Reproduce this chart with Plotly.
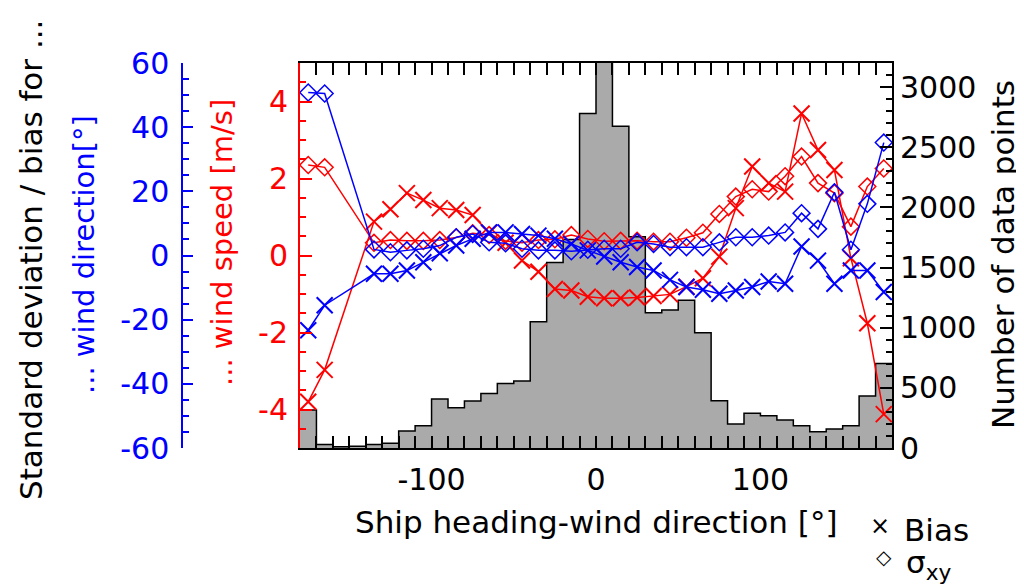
import plotly.graph_objects as go

# ---------------- data ----------------
bin_edges = list(range(-180, 181, 10))
bin_centers = list(range(-175, 180, 10))
counts = [316, 30, 10, 15, 30, 40, 141, 185, 407, 335, 390, 454, 537, 556, 1049, 1542,
          1733, 2780, 3400, 2675, 1755, 1124, 1146, 1229, 958, 393, 199, 288, 268, 233,
          185, 136, 158, 185, 432, 703]

N = None
speed_bias = [-3.80, -2.97, N, N, 0.88, 1.20, 1.62, 1.44, 1.23, 1.18, 1.05, 0.59, 0.33,
              -0.13, -0.42, -0.87, -0.91, -1.07, -1.11, -1.11, -1.09, -1.05, -1.01, -0.81,
              -0.59, -0.03, 1.23, 2.31, 1.88, 1.66, 3.69, 2.74, 2.22, -0.07, -1.76, -4.12]
speed_sigma = [2.35, 2.29, N, N, 0.33, 0.40, 0.38, 0.38, 0.40, 0.47, 0.58, 0.53, 0.38,
               0.33, 0.40, 0.42, 0.53, 0.43, 0.37, 0.38, 0.38, 0.36, 0.36, 0.46, 0.59,
               1.08, 1.53, 1.72, 1.66, 2.06, 2.57, 1.88, 1.62, 0.75, 1.79, 2.26]
dir_sigma = [50.8, 50.5, N, N, 1.9, 1.0, 1.6, 2.1, 3.1, 5.7, 6.7, 4.1, 3.8, 2.1, 1.6,
             1.6, 1.3, 1.8, 2.1, 2.1, 4.1, 3.6, 2.6, 2.6, 2.6, 4.1, 5.7, 5.7, 6.2, 7.2,
             13.2, 8.3, 19.7, 1.8, 16.1, 35.2]
dir_bias = [-23.3, -15.5, N, N, -5.7, -5.7, -4.7, -2.1, 0.7, 3.1, 5.2, 7.2, 7.2, 6.7,
            6.2, 5.2, 3.6, 1.6, -0.3, -2.1, -3.6, -4.7, -7.6, -9.8, -10.7, -11.9, -10.9,
            -9.8, -8.1, -8.8, 2.8, -1.6, -8.8, -4.7, -4.7, -11.4]

x_ticks = [-100, 0, 100]
speed_ticks = [-4, -2, 0, 2, 4]
dir_ticks = [-60, -40, -20, 0, 20, 40, 60]
count_ticks = [0, 500, 1000, 1500, 2000, 2500, 3000]

FONT = "DejaVu Sans, Liberation Sans, Arial, sans-serif"
FS = 30
FT = 31
RED = "#ff0000"
BLUE = "#0000ff"

# the page body has an 8px default margin: work in page pixels, convert to figure pixels
OFF = 8
W, H = 1024 - OFF, 585 - OFF
PL, PR, PT, PB = 300, 892, 63, 448  # plot area in page pixels
ML, MR = 12, 12
MT = PT - OFF
MB = H - (PB - OFF)
paper_w = W - ML - MR
plot_h = H - MT - MB


def px(xpage):
    return (xpage - OFF - ML) / paper_w


def py(ypage):
    return (H - MB - (ypage - OFF)) / plot_h


def lab(v):
    return str(v)


fig = go.Figure()

# histogram (step outline with fill) on right axis (base y)
step_y = counts + [counts[-1]]
fig.add_trace(go.Scatter(x=bin_edges, y=step_y, mode="lines", line_shape="hv",
                         fill="tozeroy", fillcolor="#aaaaaa",
                         line=dict(color="black", width=1.5),
                         xaxis="x", yaxis="y", showlegend=False, hoverinfo="skip"))

# wind speed (red)
fig.add_trace(go.Scatter(x=bin_centers, y=speed_sigma, mode="lines+markers", connectgaps=True,
                         line=dict(color=RED, width=1.5),
                         marker=dict(symbol="diamond-open", size=13, color=RED, line=dict(width=1.5)),
                         yaxis="y2", showlegend=False, cliponaxis=False))
fig.add_trace(go.Scatter(x=bin_centers, y=speed_bias, mode="lines+markers", connectgaps=True,
                         line=dict(color=RED, width=1.5),
                         marker=dict(symbol="x-thin-open", size=16, color=RED, line=dict(width=2, color=RED)),
                         yaxis="y2", showlegend=False, cliponaxis=False))
# wind direction (blue)
fig.add_trace(go.Scatter(x=bin_centers, y=dir_sigma, mode="lines+markers", connectgaps=True,
                         line=dict(color=BLUE, width=1.5),
                         marker=dict(symbol="diamond-open", size=13, color=BLUE, line=dict(width=1.5)),
                         yaxis="y3", showlegend=False, cliponaxis=False))
fig.add_trace(go.Scatter(x=bin_centers, y=dir_bias, mode="lines+markers", connectgaps=True,
                         line=dict(color=BLUE, width=1.5),
                         marker=dict(symbol="x-thin-open", size=16, color=BLUE, line=dict(width=2, color=BLUE)),
                         yaxis="y3", showlegend=False, cliponaxis=False))

fig.update_layout(
    width=W, height=H,
    margin=dict(l=ML, r=MR, t=MT, b=MB, autoexpand=False),
    paper_bgcolor="white", plot_bgcolor="white",
    font=dict(family=FONT, size=FS, color="black"),
    showlegend=False,
    xaxis=dict(domain=[px(PL), px(PR)], range=[-180, 180],
               tickvals=x_ticks, ticktext=[lab(v) for v in x_ticks],
               ticks="inside", ticklen=12, tickwidth=1.5, tickcolor="black",
               minor=dict(dtick=10, tick0=0, ticks="inside", ticklen=6, tickwidth=1.5, tickcolor="black"),
               showline=True, linecolor="black", linewidth=2, mirror="allticks",
               showgrid=False, zeroline=False, ticklabelstandoff=4, automargin=False,
               tickfont=dict(size=FS)),
    yaxis=dict(range=[0, 3200], side="right",
               tickvals=count_ticks, ticktext=[lab(v) for v in count_ticks],
               ticks="inside", ticklen=12, tickwidth=1.5, tickcolor="black",
               minor=dict(dtick=100, ticks="inside", ticklen=6, tickwidth=1.5, tickcolor="black"),
               showline=True, linecolor="black", linewidth=2,
               showgrid=False, zeroline=False, ticklabelstandoff=0, automargin=False,
               tickfont=dict(size=FS)),
    yaxis2=dict(range=[-5, 5], overlaying="y", side="left", anchor="x",
                tickvals=speed_ticks, ticktext=[lab(v) for v in speed_ticks],
                ticks="inside", ticklen=12, tickwidth=1.5, tickcolor=RED,
                minor=dict(dtick=0.5, ticks="inside", ticklen=6, tickwidth=1.5, tickcolor=RED),
                showline=True, linecolor=RED, linewidth=2,
                showgrid=False, zeroline=False, ticklabelstandoff=4, automargin=False,
                tickfont=dict(size=FS, color=RED)),
    yaxis3=dict(range=[-60, 60], overlaying="y", side="left", anchor="free", position=px(182),
                tickvals=dir_ticks, ticktext=[lab(v) for v in dir_ticks],
                ticks="inside", ticklen=10, tickwidth=1.5, tickcolor=BLUE,
                minor=dict(dtick=5, ticks="inside", ticklen=6, tickwidth=1.5, tickcolor=BLUE),
                showline=True, linecolor=BLUE, linewidth=1.5,
                showgrid=False, zeroline=False, ticklabelstandoff=6, automargin=False,
                tickfont=dict(size=FS, color=BLUE)),
)

anns = [
    dict(text="Ship heading-wind direction [°]", xp=596, yp=522, angle=0, color="black", size=FT),
    dict(text="Number of data points", xp=1003, yp=255, angle=-90, color="black", size=FT),
    dict(text="Standard deviation / bias for ...", xp=31, yp=260, angle=-90, color="black", size=31),
    dict(text="... wind direction[°]", xp=84, yp=255, angle=-90, color=BLUE, size=29),
    dict(text="... wind speed [m/s]", xp=222, yp=243, angle=-90, color=RED, size=29),
    dict(text="Bias", xp=936, yp=530, angle=0, color="black", size=FT),
    dict(text="σ<sub>xy</sub>", xp=928, yp=564, angle=0, color="black", size=FT),
    dict(text="×", xp=880, yp=526, angle=0, color="black", size=24),
    dict(text="◇", xp=884, yp=557, angle=0, color="black", size=20),
]
annotations = []
for a in anns:
    annotations.append(dict(text=a["text"], x=px(a["xp"]), y=py(a["yp"]), xref="paper", yref="paper",
                            showarrow=False, textangle=a["angle"], xanchor="center", yanchor="middle",
                            font=dict(family=FONT, size=a["size"], color=a["color"])))
fig.update_layout(annotations=annotations)

fig.write_html("out.html")
